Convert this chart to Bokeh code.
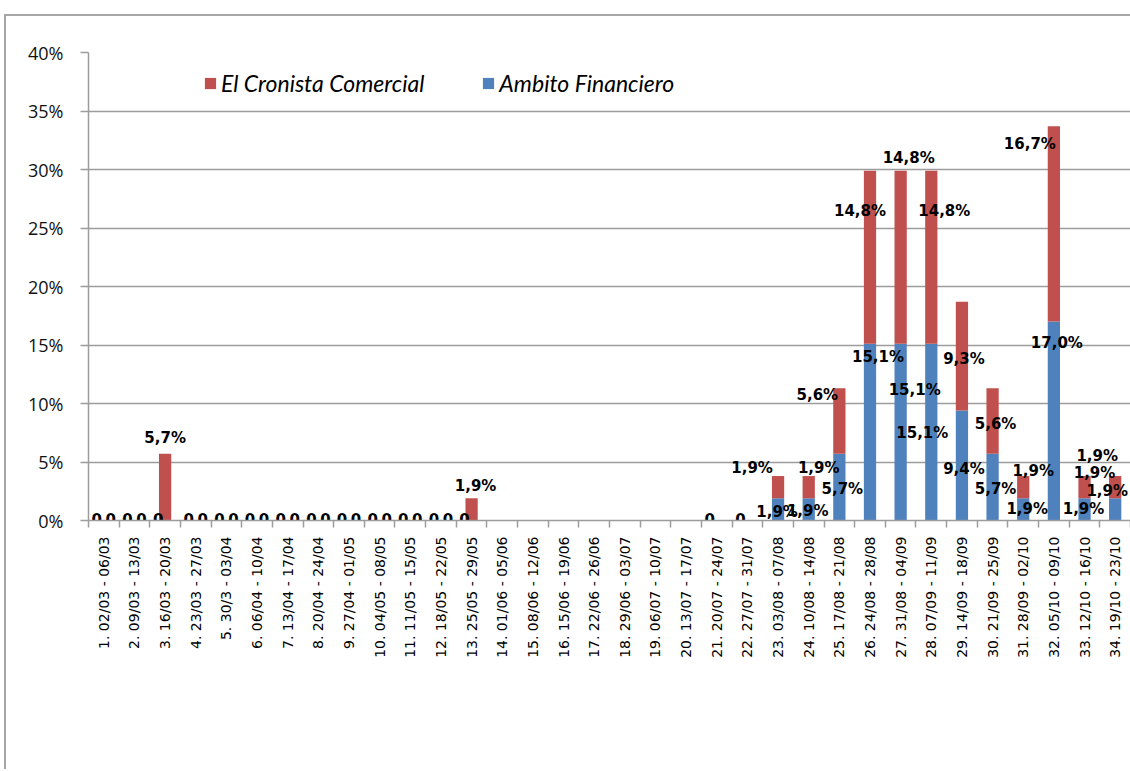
import math
from bokeh.plotting import figure
from bokeh.models import (ColumnDataSource, Range1d, FixedTicker, CustomJSTickFormatter,
                          PrintfTickFormatter, Legend, LegendItem)
from bokeh.core.properties import value
from bokeh.embed import file_html
from bokeh.resources import INLINE

# ---------------- data ----------------
weeks = [
    "1. 02/03 - 06/03", "2. 09/03 - 13/03", "3. 16/03 - 20/03", "4. 23/03 - 27/03",
    "5. 30/3 - 03/04", "6. 06/04 - 10/04", "7. 13/04 - 17/04", "8. 20/04 - 24/04",
    "9. 27/04 - 01/05", "10. 04/05 - 08/05", "11. 11/05 - 15/05", "12. 18/05 - 22/05",
    "13. 25/05 - 29/05", "14. 01/06 - 05/06", "15. 08/06 - 12/06", "16. 15/06 - 19/06",
    "17. 22/06 - 26/06", "18. 29/06 - 03/07", "19. 06/07 - 10/07", "20. 13/07 - 17/07",
    "21. 20/07 - 24/07", "22. 27/07 - 31/07", "23. 03/08 - 07/08", "24. 10/08 - 14/08",
    "25. 17/08 - 21/08", "26. 24/08 - 28/08", "27. 31/08 - 04/09", "28. 07/09 - 11/09",
    "29. 14/09 - 18/09", "30. 21/09 - 25/09", "31. 28/09 - 02/10", "32. 05/10 - 09/10",
    "33. 12/10 - 16/10", "34. 19/10 - 23/10",
]
ambito = [0, 0, 0, 0, 0, 0, 0, 0, 0, 0, 0, 0, 0,
          None, None, None, None, None, None, None,
          0, 0,
          1.9, 1.9, 5.7, 15.1, 15.1, 15.1, 9.4, 5.7, 1.9, 17.0, 1.9, 1.9]
cronista = [0, 0, 5.7, 0, 0, 0, 0, 0, 0, 0, 0, 0, 1.9,
            None, None, None, None, None, None, None,
            None, None,
            1.9, 1.9, 5.6, 14.8, 14.8, 14.8, 9.3, 5.6, 1.9, 16.7, 1.9, 1.9]
series_names = ["El Cronista Comercial", "Ambito Financiero"]
y_ticks = [0, 5, 10, 15, 20, 25, 30, 35, 40]

# label placement nudges (screen px, relative to the top of each segment)
nudge_ambito = {22: (-1, 14), 23: (-1, 13), 24: (3, 35), 25: (8, 13), 26: (14, 46),
                27: (-9, 89), 28: (2, 58), 29: (3, 35), 30: (4, 11), 31: (3, 21),
                32: (-1, 11), 33: (-8, -7)}
nudge_cronista = {2: (0, -16), 12: (4, -12), 22: (-26, -8), 23: (10, -8), 24: (-22, 7),
                  25: (-10, 40), 26: (8, -13), 27: (13, 40), 28: (2, 57), 29: (3, 36),
                  30: (10, -5), 31: (-24, 18), 32: (10, -3), 33: (-18, -20)}

BLUE = "#4F81BD"
RED = "#C0504D"
GRID = "#9c9c9c"

n = len(weeks)
centers = [i + 0.5 for i in range(n)]
boundaries = list(range(n + 1))

src = ColumnDataSource(dict(
    x=centers,
    ambito=[v if v is not None else 0 for v in ambito],
    cronista=[v if v is not None else 0 for v in cronista],
))

def fmt(v):
    return "0" if v == 0 else f"{v:.1f}".replace(".", ",") + "%"

lx, ly, lt, lxo, lyo = [], [], [], [], []
for i in range(n):
    a, c = ambito[i], cronista[i]
    base = a if a is not None else 0
    if a is not None:
        lx.append(centers[i]); lt.append(fmt(a))
        if a == 0:
            ly.append(0); lxo.append(-7); lyo.append(-2)
        else:
            dx, dy = nudge_ambito.get(i, (0, 14))
            ly.append(a); lxo.append(dx); lyo.append(dy)
    if c is not None:
        lx.append(centers[i]); lt.append(fmt(c))
        if c == 0:
            ly.append(0); lxo.append(7); lyo.append(-2)
        else:
            dx, dy = nudge_cronista.get(i, (0, 14))
            ly.append(base + c); lxo.append(dx); lyo.append(dy)
lsrc = ColumnDataSource(dict(x=lx, y=ly, t=lt, xo=lxo, yo=lyo))

# ---------------- figure ----------------
p = figure(width=1126, height=755, x_range=Range1d(0, n), y_range=Range1d(0, 40),
           output_backend="svg", toolbar_location=None,
           min_border_left=84, min_border_top=38, min_border_right=0, min_border_bottom=249)
p.styles = {"margin-left": "4px", "margin-top": "14px", "border": "none",
            "box-shadow": "inset 2px 2px 0 0 #a6a6a6", "background-color": "white"}
p.outline_line_color = None
p.background_fill_color = "white"
p.border_fill_alpha = 0

rs = p.vbar_stack(["ambito", "cronista"], x="x", width=0.4, color=[BLUE, RED],
                  line_color=None, source=src)

p.text(x="x", y="y", text="t", x_offset="xo", y_offset="yo", source=lsrc,
       text_align="center", text_baseline="middle", text_font=value("DejaVu Sans"),
       text_font_style="bold", text_font_size="15px", text_color="black")

# x axis
p.xaxis.ticker = FixedTicker(ticks=centers, minor_ticks=boundaries)
p.xaxis.formatter = CustomJSTickFormatter(args=dict(labels=weeks), code="""
const i = Math.floor(tick);
return (i >= 0 && i < labels.length) ? labels[i] : '';
""")
p.xaxis.major_label_orientation = math.pi / 2
p.xaxis.major_tick_out = 0
p.xaxis.major_tick_in = 0
p.xaxis.minor_tick_out = 7
p.xaxis.minor_tick_in = 0
p.xaxis.minor_tick_line_color = GRID
p.xaxis.minor_tick_line_width = 1.5
p.xaxis.axis_line_color = GRID
p.xaxis.axis_line_width = 1.5
p.xaxis.major_label_standoff = 9
p.xaxis.major_label_text_font = "DejaVu Sans"
p.xaxis.major_label_text_font_size = "14px"
p.xaxis.major_label_text_color = "black"

# y axis
p.yaxis.ticker = FixedTicker(ticks=y_ticks)
p.yaxis.formatter = PrintfTickFormatter(format="%d%%")
p.yaxis.major_tick_out = 8
p.yaxis.major_tick_in = 0
p.yaxis.minor_tick_out = 0
p.yaxis.minor_tick_in = 0
p.yaxis.major_tick_line_color = GRID
p.yaxis.major_tick_line_width = 1.5
p.yaxis.axis_line_color = GRID
p.yaxis.axis_line_width = 1.5
p.yaxis.major_label_standoff = 17
p.yaxis.major_label_text_font = "Open Sans"
p.yaxis.major_label_text_font_size = "18px"
p.yaxis.major_label_text_color = "#111111"

p.xgrid.visible = False
p.ygrid.ticker = FixedTicker(ticks=y_ticks)
p.ygrid.grid_line_color = GRID
p.ygrid.grid_line_width = 1.5

legend = Legend(items=[LegendItem(label=series_names[0], renderers=[rs[1]]),
                       LegendItem(label=series_names[1], renderers=[rs[0]])],
                location=(115, 423), orientation="horizontal",
                border_line_color=None, background_fill_alpha=0,
                padding=0, margin=0, spacing=57, glyph_width=14, glyph_height=14,
                label_standoff=4, label_text_font="Lato", label_text_font_style="italic",
                label_text_font_size="23px", label_text_color="black")
p.add_layout(legend)

open("out.html", "w").write(file_html(p, INLINE))
